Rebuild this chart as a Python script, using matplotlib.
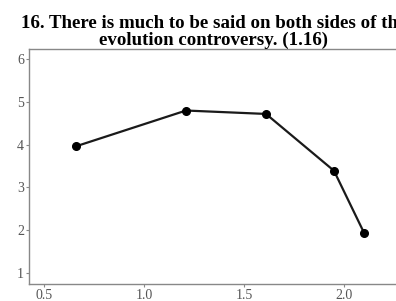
import matplotlib
matplotlib.use("Agg")
import matplotlib.pyplot as plt

x_vals = [0.658, 1.21, 1.61, 1.95, 2.10]
y_vals = [3.96, 4.80, 4.72, 3.39, 1.94]
x_ticks = [0.5, 1.0, 1.5, 2.0]
y_ticks = [1, 2, 3, 4, 5, 6]
title = "16. There is much to be said on both sides of the\nevolution controversy. (1.16)"

plt.rcParams['font.family'] = ['Liberation Serif', 'DejaVu Serif']
fig = plt.figure(figsize=(3.96, 3.01), dpi=100)
ax = fig.add_axes([29/396, 17/301, 369/396, 235/301])
ax.plot(x_vals, y_vals, color='#1a1a1a', lw=1.6, marker='o', ms=5.5, mfc='black', mec='black')
ax.set_xlim(0.425, 2.27)
ax.set_ylim(0.74, 6.24)
ax.set_xticks(x_ticks)
ax.set_xticklabels(['0.5', '1.0', '1.5', '2.0'])
ax.set_yticks(y_ticks)
for s in ax.spines.values():
    s.set_color('#888888')
    s.set_linewidth(1.0)
ax.tick_params(colors='#888888', labelcolor='#555555', labelsize=10, length=2, width=0.8, pad=1.5)
ax.set_title(title, fontsize=13.6, fontweight='bold', pad=1, linespacing=1.0)
fig.savefig('out.png', dpi=100)
